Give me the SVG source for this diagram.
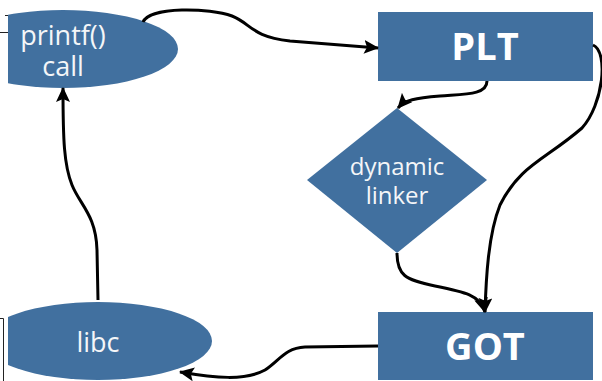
<svg xmlns="http://www.w3.org/2000/svg" width="602" height="381" viewBox="0 0 602 381">
<style>
.node{fill:#41709f}
.lbl{fill:#f4f6f8;font-family:"Open Sans","DejaVu Sans",sans-serif;font-size:27px;text-anchor:middle}
.dl{font-size:24px}
.big{fill:#ffffff;font-family:"Open Sans","DejaVu Sans",sans-serif;font-size:38px;font-weight:bold;text-anchor:middle}
.con{fill:none;stroke:#000;stroke-width:3;marker-end:url(#ah)}
.tick{stroke:#222;stroke-width:1;fill:none}
</style>
<defs>
<marker id="ah" markerUnits="userSpaceOnUse" markerWidth="16" markerHeight="14" refX="14" refY="7" orient="auto">
<path d="M0,0 L15,7 L0,14 L3,7 Z" fill="#000"/>
</marker>
<clipPath id="clipL"><rect x="8" y="0" width="594" height="381"/></clipPath>
</defs>
<rect width="602" height="381" fill="#fff"/>
<path class="tick" d="M5,15.5 H10 M0,32.5 H8 M0,318.5 H3.5 V381"/>
<g id="printf">
<ellipse class="node" cx="63" cy="49" rx="115" ry="39" clip-path="url(#clipL)"/>
<text class="lbl" x="63" y="45">printf()</text>
<text class="lbl" x="63" y="76">call</text>
</g>
<g id="plt">
<rect class="node" x="378" y="12" width="215" height="69"/>
<text class="big" x="485" y="60">PLT</text>
</g>
<g id="linker">
<polygon class="node" points="397,108 487,180 397,253 307,180"/>
<text class="lbl dl" x="397" y="175">dynamic</text>
<text class="lbl dl" x="397" y="204">linker</text>
</g>
<g id="got">
<rect class="node" x="378" y="312" width="215" height="68"/>
<text class="big" x="485" y="360">GOT</text>
</g>
<g id="libc">
<ellipse class="node" cx="98" cy="341" rx="114" ry="39" clip-path="url(#clipL)"/>
<text class="lbl" x="98" y="352">libc</text>
</g>
<g id="connectors">
<path class="con" d="M143,22 C150,6 210,8 232,16 C252,24 250,36 290,41 L378,48"/>
<path class="con" d="M487,81 C487,95 465,94 440,96 C415,98 405,100 398,108"/>
<path class="con" d="M593,45 C609,52 603,105 582,128 C545,160 520,165 500,205 C488,235 486,280 485,312"/>
<path class="con" d="M397,253 C397,275 405,280 435,286 C465,292 480,295 485,312"/>
<path class="con" d="M378,346 L305,347 C285,348 280,360 265,370 C245,381 215,378 180,372"/>
<path class="con" d="M98,300 L97,250 C96,215 80,205 72,185 C64,165 63,140 63,88"/>
</g>
</svg>
